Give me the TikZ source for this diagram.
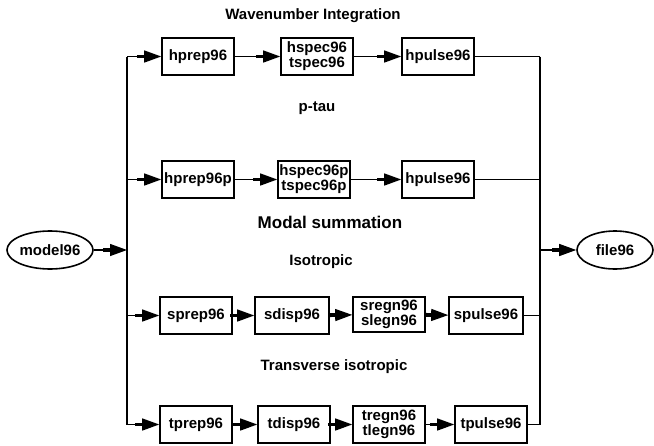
\documentclass[tikz,border=0pt]{standalone}
\usepackage{fontspec}
\setmainfont{Liberation Sans}
\usetikzlibrary{arrows.meta,shapes.geometric}
\begin{document}
\begin{tikzpicture}[x=1pt,y=-1pt,
  every node/.style={font=\bfseries\fontsize{15}{15}\selectfont, text=black},
  box/.style={draw, line width=1.6pt, minimum width=72pt, minimum height=37pt, inner sep=1pt, align=center},
  oval/.style={draw, ellipse, line width=1.6pt, minimum width=81pt, minimum height=38pt, inner sep=0pt},
  title/.style={inner sep=0pt},
  bigtitle/.style={inner sep=0pt, font=\bfseries\fontsize{17}{17}\selectfont},
  wire/.style={line width=1.3pt},
  arr/.style={line width=1.3pt, -{Rectangle[length=7pt,width=3.8pt]Triangle[length=17pt,width=12pt]}}]
\useasboundingbox (0,0) rectangle (654,445);
% titles
\node[title] (t1) at (313,16) {Wavenumber Integration};
\node[title] (t2) at (317,108) {p-tau};
\node[bigtitle] (t3) at (330,222) {Modal summation};
\node[title] (t4) at (321,262) {Isotropic};
\node[title] (t5) at (334,367) {Transverse isotropic};
% ovals
\node[oval] (model) at (50,250) {model96};
\node[oval, minimum width=76pt] (file) at (615,250) {file96};
% row 1
\node[box] (a1) at (198,56.5) {hprep96};
\node[box] (a2) at (317,56.5) {hspec96\\tspec96};
\node[box] (a3) at (438,56.5) {hpulse96};
% row 2
\node[box] (b1) at (198,179.5) {hprep96p};
\node[box] (b2) at (314,179.5) {hspec96p\\tspec96p};
\node[box] (b3) at (438,179.5) {hpulse96};
% row 3
\node[box] (c1) at (196,315.5) {sprep96};
\node[box, minimum width=74pt] (c2) at (292,315.5) {sdisp96};
\node[box, minimum height=35pt] (c3) at (389,314.5) {sregn96\\slegn96};
\node[box, minimum width=74pt] (c4) at (486,315.5) {spulse96};
% row 4
\node[box] (d1) at (196,424.5) {tprep96};
\node[box] (d2) at (294,424.5) {tdisp96};
\node[box] (d3) at (389,424.5) {tregn96\\tlegn96};
\node[box] (d4) at (491,424.5) {tpulse96};
% bus coordinates
\coordinate (L1) at (127,56.5);
\coordinate (L2) at (127,179.5);
\coordinate (Lm) at (127,250);
\coordinate (L3) at (127,315.5);
\coordinate (L4) at (127,424.5);
\coordinate (R1) at (540,56.5);
\coordinate (R2) at (540,179.5);
\coordinate (Rm) at (540,250);
\coordinate (R3) at (540,315.5);
\coordinate (R4) at (540,424.5);
% buses
\draw[wire] (L1) -- (L4);
\draw[wire] (R1) -- (R4);
% input / output
\draw[arr] (model) -- (Lm);
\draw[arr] (Rm) -- (file);
% branches
\draw[arr] (L1) -- (a1);
\draw[arr] (L2) -- (b1);
\draw[arr] (L3) -- (c1);
\draw[arr] (L4) -- (d1);
% chains
\draw[arr] (a1) -- (a2);
\draw[arr] (a2) -- (a3);
\draw[arr] (b1) -- (b2);
\draw[arr] (b2) -- (b3);
\draw[arr] (c1) -- (c2);
\draw[arr] (c2) -- (c3);
\draw[arr] (c3) -- (c4);
\draw[arr] (d1) -- (d2);
\draw[arr] (d2) -- (d3);
\draw[arr] (d3) -- (d4);
% outputs to right bus
\draw[wire] (a3) -- (R1);
\draw[wire] (b3) -- (R2);
\draw[wire] (c4) -- (R3);
\draw[wire] (d4) -- (R4);
\end{tikzpicture}
\end{document}
